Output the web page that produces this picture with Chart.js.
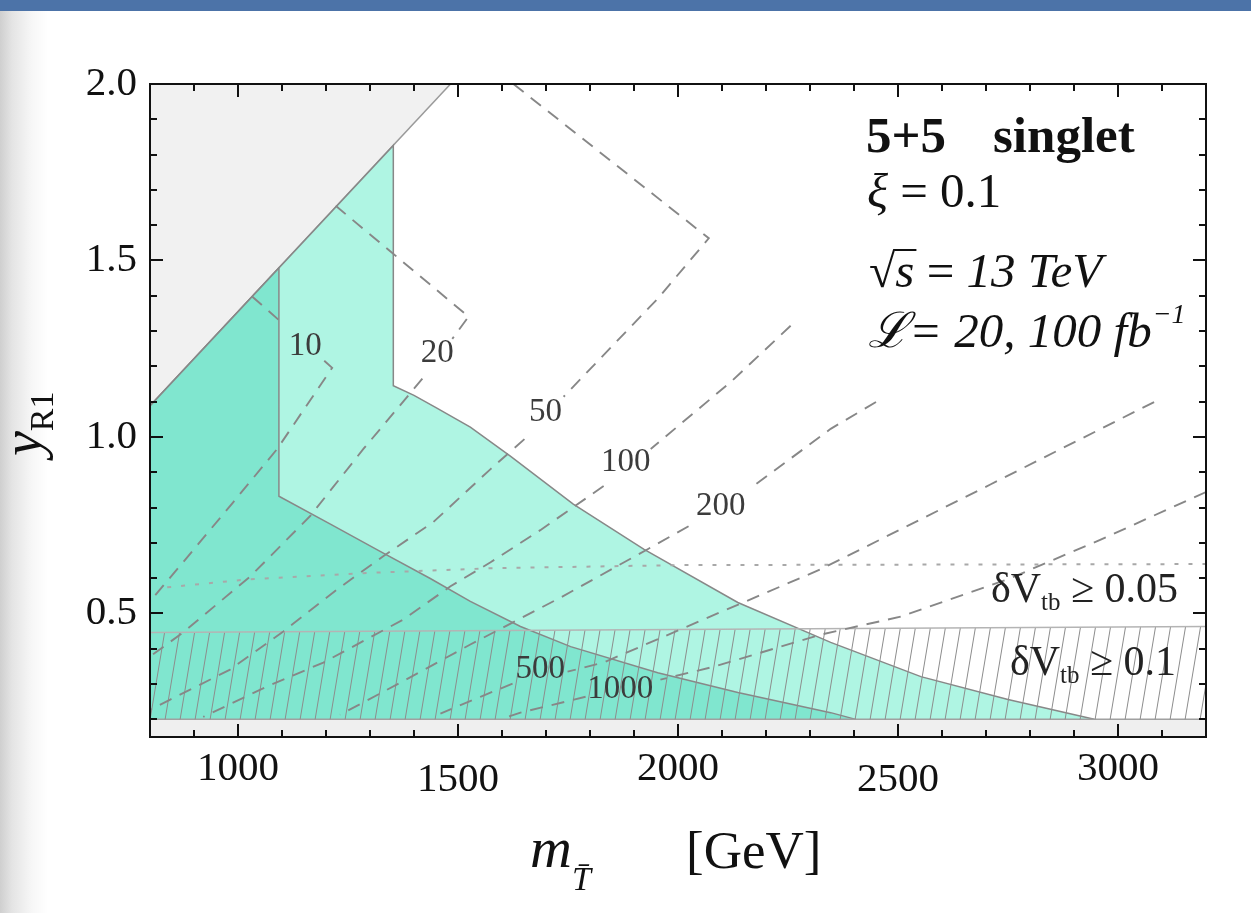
<!DOCTYPE html>
<html>
<head>
<meta charset="utf-8">
<title>5+5 singlet reach</title>
<script src="https://cdn.jsdelivr.net/npm/chart.js@4.4.1/dist/chart.umd.min.js"></script>
<style>
  html, body { margin: 0; padding: 0; }
  body {
    width: 1251px; height: 913px; overflow: hidden; position: relative;
    background: linear-gradient(to right, #cfcfcf 0px, #e4e4e4 12px, #f7f7f7 32px, #fff 48px);
  }
  #bar { position: absolute; left: 0; top: 0; width: 1251px; height: 11px; background: #4c73a8; }
  #wrap { position: absolute; left: 0; top: 0; }
</style>
</head>
<body>
<div id="bar"></div>
<div id="wrap"><canvas id="chart-reach" width="1251" height="913"></canvas></div>
<script>
const SERIF = '"Liberation Serif", "Times New Roman", serif';

// axis ticks (m_T in GeV, y_R1)
const xTicks = [1000, 1500, 2000, 2500, 3000];
const yTicks = [0.5, 1.0, 1.5, 2.0];

// upper-left corner, not accessible
const excludedX = [800, 1483];
const excludedY = [1.088, 2.0];

// reach with 100 fb-1 (light) and 20 fb-1 (dark)
const reach100X = [800, 1353, 1353, 1400, 1450, 1528, 1619, 1762, 1922, 2136, 2347, 2552, 2750, 2946];
const reach100Y = [1.088, 1.826, 1.145, 1.118, 1.083, 1.028, 0.946, 0.810, 0.682, 0.531, 0.418, 0.321, 0.256, 0.2];
const reach20X = [800, 1093, 1093, 1210, 1323, 1437, 1528, 1642, 1756, 1954, 2136, 2347, 2404];
const reach20Y = [1.088, 1.479, 0.832, 0.753, 0.676, 0.599, 0.534, 0.463, 0.406, 0.332, 0.276, 0.219, 0.2];

// y_R1 < 0.2 band
const floorX = [800, 3200];
const floorY = [0.2, 0.2];

// dV_tb >= 0.1 (hatched) and dV_tb >= 0.05 (dotted)
const vtb10X = [800, 3200];
const vtb10Y = [0.446, 0.463];
const vtb05X = [839, 1027, 1300, 1573, 2000, 3200];
const vtb05Y = [0.574, 0.597, 0.615, 0.628, 0.637, 0.64];

// dashed contours, null leaves room for the label
const c10X = [1032, 1105, 1105, 1196, 1214, 1089, 989, 875, 800];
const c10Y = [1.398, 1.318, null, 1.216, 1.196, 0.966, 0.815, 0.645, 0.534];
const c20X = [1222, 1346, 1524, 1487, 1487, 1419, 1285, 1164, 1028, 875, 800];
const c20Y = [1.655, 1.526, 1.341, 1.278, null, 1.165, 0.966, 0.776, 0.605, 0.446, 0.378];
const c50X = [1626, 2070, 1954, 1740, 1740, 1651, 1574, 1444, 1330, 1225, 1103, 982, 846, 800];
const c50Y = [2.0, 1.563, 1.392, 1.114, null, 0.994, 0.909, 0.759, 0.662, 0.568, 0.449, 0.341, 0.256, 0.227];
const c100X = [2256, 2120, 1938, 1938, 1831, 1687, 1574, 1483, 1376, 1194, 1066, 921];
const c100Y = [1.315, 1.156, 0.966, null, 0.861, 0.736, 0.645, 0.577, 0.483, 0.361, 0.293, 0.207];
const c200X = [2450, 2347, 2165, 2165, 2024, 1931, 1733, 1528, 1369, 1232];
const c200Y = [1.099, 1.023, 0.855, null, 0.747, 0.682, 0.545, 0.412, 0.304, 0.213];
const c500X = [3082, 2711, 2324, 2058, 1831, 1749, 1749, 1624, 1551, 1460];
const c500Y = [1.099, 0.866, 0.625, 0.483, 0.361, 0.335, null, 0.301, 0.264, 0.216];
const c1000X = [3200, 2962, 2750, 2506, 2324, 2081, 1960, 1960, 1790, 1642, 1615];
const c1000Y = [0.844, 0.710, 0.597, 0.491, 0.440, 0.349, 0.3125, null, 0.264, 0.219, 0.208];

const contourLabels = ['10', '20', '50', '100', '200', '500', '1000'];
const labelX = [1153, 1453, 1699, 1881, 2097, 1687, 1869];
const labelY = [1.256, 1.236, 1.071, 0.929, 0.804, 0.341, 0.284];

const pts = (xs, ys) => xs.map((x, i) => ({ x, y: ys[i] }));

function hatch() {
  const c = document.createElement('canvas');
  c.width = 15; c.height = 90;
  const g = c.getContext('2d');
  g.strokeStyle = '#8c8c8c';
  g.lineWidth = 1;
  for (const off of [-15, 0, 15]) {
    g.beginPath(); g.moveTo(off, 90); g.lineTo(off + 15, 0); g.stroke();
  }
  return g.createPattern(c, 'repeat');
}

function region(xs, ys, fill, bg, border, order) {
  return { data: pts(xs, ys), fill, backgroundColor: bg, borderColor: border, borderWidth: 1.5, order };
}

const contours = [[c10X, c10Y], [c20X, c20Y], [c50X, c50Y], [c100X, c100Y], [c200X, c200Y], [c500X, c500Y], [c1000X, c1000Y]];

const datasets = [
  region(excludedX, excludedY, 'end', '#f1f1f1', '#9a9a9a', 10),
  region(reach100X, reach100Y, { value: 0.2 }, '#aff5e3', '#888888', 9),
  region(reach20X, reach20Y, { value: 0.2 }, '#80e6cf', '#888888', 8),
  region(floorX, floorY, 'start', '#efefef', '#a0a0a0', 7),
  region(vtb10X, vtb10Y, { value: 0.2 }, hatch(), '#b4b4b4', 6),
  { data: pts(vtb05X, vtb05Y), fill: false, borderColor: '#a8a8a8', borderWidth: 2, borderDash: [4, 10], order: 5 },
  ...contours.map(([xs, ys]) => ({
    data: pts(xs, ys), fill: false, borderColor: '#878787', borderWidth: 1.9, borderDash: [13, 9], order: 1
  }))
];

// draws a row of text pieces with their own fonts, returns end x
function runs(ctx, x, y, parts) {
  let cx = x;
  for (const [text, font, dy] of parts) {
    ctx.font = font + ' ' + SERIF;
    ctx.fillText(text, cx, y + (dy || 0));
    cx += ctx.measureText(text).width;
  }
  return cx;
}

const contourLabelPlugin = {
  id: 'contourLabels',
  afterDatasetsDraw(chart) {
    const { ctx, scales: { x, y } } = chart;
    ctx.save();
    ctx.font = '33px ' + SERIF;
    ctx.fillStyle = '#3c3c3c';
    ctx.textAlign = 'center';
    ctx.textBaseline = 'middle';
    contourLabels.forEach((t, i) => ctx.fillText(t, x.getPixelForValue(labelX[i]), y.getPixelForValue(labelY[i])));
    ctx.restore();
  }
};

const framePlugin = {
  id: 'frame',
  afterDraw(chart) {
    const { ctx, chartArea: a, scales: { x, y } } = chart;
    ctx.save();
    ctx.strokeStyle = '#111';
    ctx.lineWidth = 2;
    ctx.strokeRect(a.left, a.top, a.right - a.left, a.bottom - a.top);
    ctx.beginPath();
    for (let i = 9; i < 32; i++) {
      const px = Math.round(x.getPixelForValue(i * 100));
      const len = i % 5 === 0 ? 13 : 7;
      ctx.moveTo(px, a.bottom); ctx.lineTo(px, a.bottom - len);
      ctx.moveTo(px, a.top); ctx.lineTo(px, a.top + len);
    }
    for (let i = 2; i < 20; i++) {
      const py = Math.round(y.getPixelForValue(i / 10));
      const len = i % 5 === 0 ? 13 : 7;
      ctx.moveTo(a.left, py); ctx.lineTo(a.left + len, py);
      ctx.moveTo(a.right, py); ctx.lineTo(a.right - len, py);
    }
    ctx.stroke();

    // model box
    ctx.fillStyle = '#111';
    ctx.textAlign = 'left';
    ctx.textBaseline = 'alphabetic';
    ctx.font = 'bold 51px ' + SERIF;
    ctx.fillText('5+5', 866, 152);
    ctx.fillText('singlet', 993, 152);
    runs(ctx, 867, 207, [['ξ', 'italic 49px'], [' = 0.1', '49px']]);
    const sx = runs(ctx, 869, 287, [['√', '48px']]);
    const se = runs(ctx, sx, 287, [['s', 'italic 49px']]);
    ctx.fillRect(sx - 1, 287 - 38, se - sx + 3, 2);
    runs(ctx, se, 287, [[' = ', '49px'], ['13 TeV', 'italic 49px']]);
    const le = runs(ctx, 868, 347, [['ℒ= 20, 100 fb', 'italic 49px']]);
    runs(ctx, le + 1, 323, [['−1', 'italic 28px']]);

    // dV_tb labels
    ctx.fillStyle = '#222';
    runs(ctx, 991, 602, [['δV', '42px'], ['tb', '25px', 8], [' ≥ 0.05', '42px']]);
    runs(ctx, 1010, 675, [['δV', '42px'], ['tb', '25px', 8], [' ≥ 0.1', '42px']]);

    // axis titles
    ctx.fillStyle = '#111';
    runs(ctx, 530, 867, [['m', 'italic 58px']]);
    runs(ctx, 572, 890, [['T\u0304', 'italic 34px']]);
    runs(ctx, 686, 868, [['[GeV]', '53px']]);
    ctx.translate(41, 456);
    ctx.rotate(-Math.PI / 2);
    runs(ctx, 0, 0, [['y', 'italic 56px'], ['R1', '34px', 12]]);
    ctx.restore();
  }
};

new Chart(document.getElementById('chart-reach'), {
  type: 'line',
  data: { datasets },
  options: {
    responsive: false,
    animation: false,
    layout: { padding: { top: 84, right: 45, left: 0, bottom: 0 } },
    elements: { point: { radius: 0, hitRadius: 0 }, line: { tension: 0 } },
    plugins: { legend: { display: false }, tooltip: { enabled: false } },
    scales: {
      x: {
        type: 'linear', min: 800, max: 3200,
        afterBuildTicks: s => { s.ticks = xTicks.map(v => ({ value: v })); },
        afterFit: s => { s.height = 176; },
        grid: { display: false, drawTicks: false },
        border: { display: false },
        ticks: {
          color: '#111', padding: 8, maxRotation: 0, autoSkip: false,
          callback: v => String(v),
          // 1500 and 2500 sit a little lower in the original
          font: c => ({ family: SERIF, size: 41, lineHeight: c.tick && c.tick.value % 1000 === 500 ? 1.7 : 1.2 })
        }
      },
      y: {
        type: 'linear', min: 0.15, max: 2.0,
        afterBuildTicks: s => { s.ticks = yTicks.map(v => ({ value: v })); },
        afterFit: s => { s.width = 150; },
        grid: { display: false, drawTicks: false },
        border: { display: false },
        ticks: { color: '#111', padding: 13, callback: v => v.toFixed(1), font: { family: SERIF, size: 41 } }
      }
    }
  },
  plugins: [contourLabelPlugin, framePlugin]
});
</script>
</body>
</html>
